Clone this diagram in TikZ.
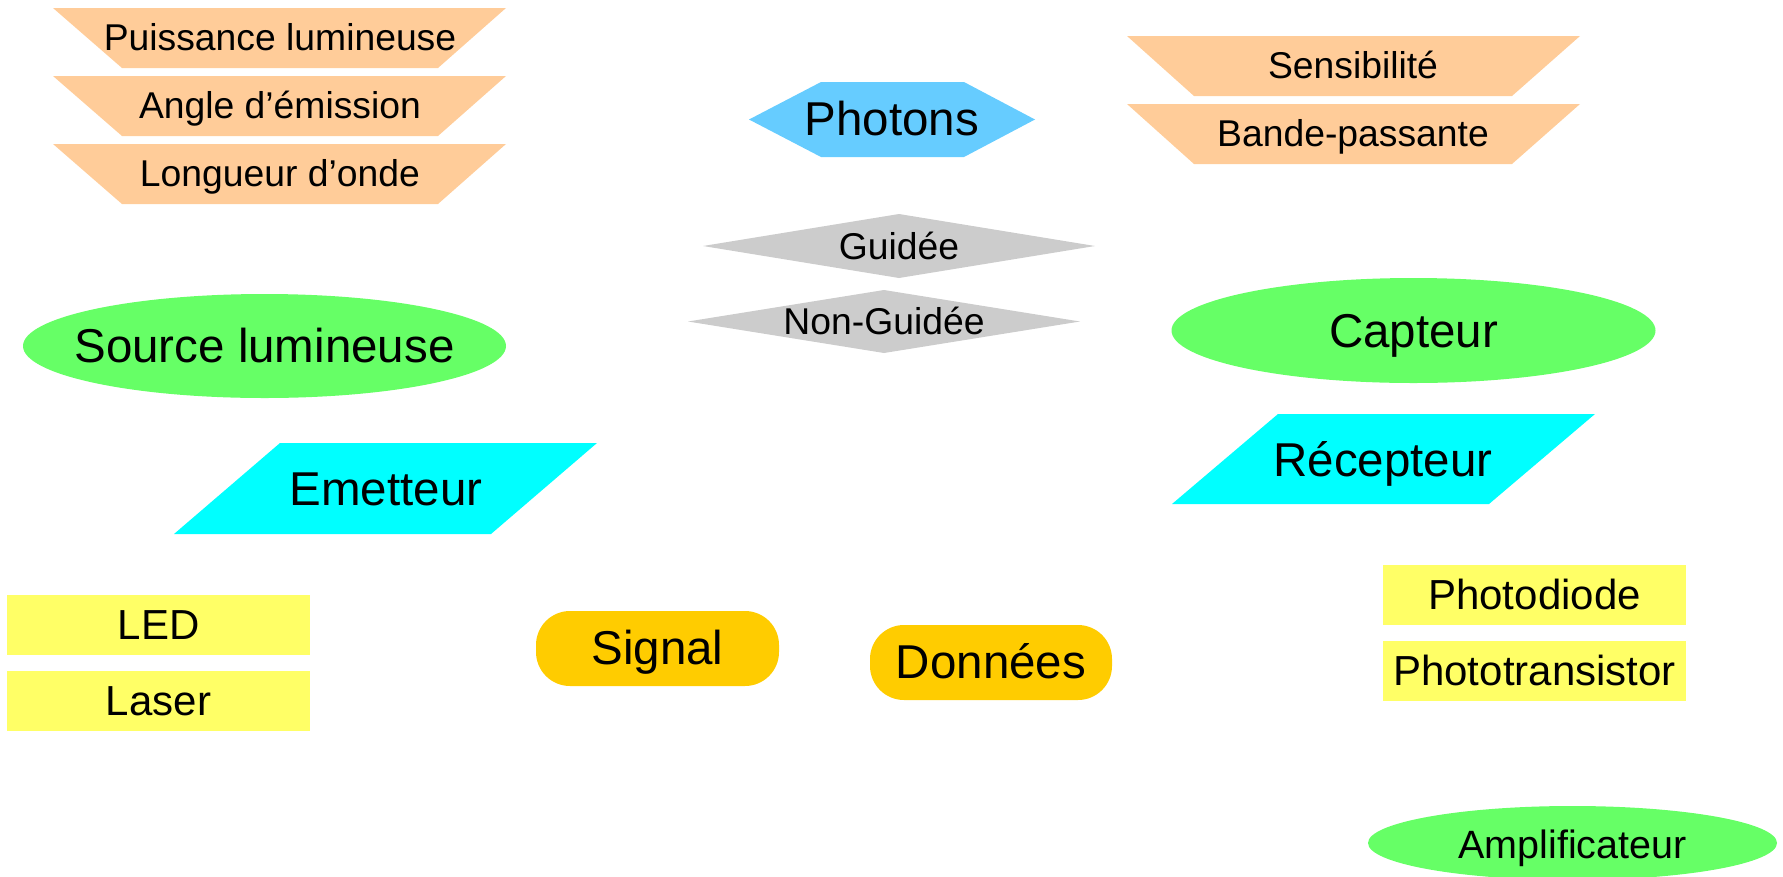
\documentclass[tikz,border=0pt]{standalone}
\usepackage{fontspec}
\setmainfont{Liberation Sans}
\definecolor{peach}{HTML}{FFCC99}
\definecolor{skyb}{HTML}{66CCFF}
\definecolor{greyd}{HTML}{CCCCCC}
\definecolor{greenel}{HTML}{66FF66}
\definecolor{cyanp}{HTML}{00FFFF}
\definecolor{yellowr}{HTML}{FFFF66}
\definecolor{goldr}{HTML}{FFCC00}
\tikzset{
  lbl/.style={inner sep=0pt, anchor=center, text=black},
  bigt/.style={lbl, font=\fontsize{47.5}{57}\selectfont, text height=43pt, text depth=10.07pt},
  medt/.style={lbl, font=\fontsize{42}{50}\selectfont, text height=38pt, text depth=8.9pt},
  ampt/.style={lbl, font=\fontsize{39.5}{47}\selectfont, text height=35.75pt, text depth=8.37pt},
  smallt/.style={lbl, font=\fontsize{37.3}{45}\selectfont, text height=33.76pt, text depth=7.91pt},
}
\begin{document}
\begin{tikzpicture}[x=1pt,y=-1pt]
\useasboundingbox (0,0) rectangle (1783,876);
\clip (0,0) rectangle (1783,876);
% left trapezoids
\foreach \t in {8,76,144}{
  \fill[peach] (53,\t) -- (506,\t) -- (438,\t+60) -- (122,\t+60) -- cycle;
}
\node[smallt] (puissance) at (280,38) {Puissance lumineuse};
\node[smallt] (angle) at (280,106) {Angle d’émission};
\node[smallt] (longueur) at (280,174) {Longueur d’onde};
% right trapezoids
\foreach \t in {36,104}{
  \fill[peach] (1127,\t) -- (1580,\t) -- (1512,\t+60) -- (1194,\t+60) -- cycle;
}
\node[smallt] (sensib) at (1353,66) {Sensibilité};
\node[smallt] (bande) at (1353,134) {Bande-passante};
% photons hexagon
\fill[skyb] (749,119.5) -- (821,82) -- (964,82) -- (1035,119.5) -- (964,157) -- (821,157) -- cycle;
\node[bigt] (photons) at (892,119.5) {Photons};
% diamonds
\fill[greyd] (703,246) -- (899,214) -- (1095,246) -- (899,278) -- cycle;
\node[smallt] (guidee) at (899,246.5) {Guidée};
\fill[greyd] (688,321.5) -- (884,290) -- (1080,321.5) -- (884,353) -- cycle;
\node[smallt] (nonguidee) at (884,322) {Non-Guidée};
% ellipses
\fill[greenel] (264.5,346) ellipse [x radius=241.5, y radius=52];
\node[bigt] (source) at (264.5,346) {Source lumineuse};
\fill[greenel] (1413.5,330.5) ellipse [x radius=242, y radius=52.5];
\node[bigt] (capteur) at (1413.5,331) {Capteur};
\fill[greenel] (1572.5,843) ellipse [x radius=204.5, y radius=37];
\node[ampt] (ampli) at (1572.5,845) {Amplificateur};
% parallelograms
\fill[cyanp] (174,534) -- (280,443) -- (597,443) -- (491,534) -- cycle;
\node[bigt] (emetteur) at (386,489) {Emetteur};
\fill[cyanp] (1172,504) -- (1278,414) -- (1595,414) -- (1489,504) -- cycle;
\node[bigt] (recepteur) at (1383,460) {Récepteur};
% yellow rectangles
\fill[yellowr] (7,595) rectangle (310,655);
\node[medt] (led) at (158.5,625) {LED};
\fill[yellowr] (7,671) rectangle (310,731);
\node[medt] (laser) at (158.5,701) {Laser};
\fill[yellowr] (1383,565) rectangle (1686,625);
\node[medt] (photodiode) at (1534.5,595) {Photodiode};
\fill[yellowr] (1383,641) rectangle (1686,701);
\node[medt] (phototrans) at (1534.5,671) {Phototransistor};
% rounded boxes
\fill[goldr, rounded corners=34pt] (536,611) rectangle (779,686);
\node[bigt] (signal) at (657.5,648.5) {Signal};
\fill[goldr, rounded corners=34pt] (870,625) rectangle (1112,700);
\node[bigt] (donnees) at (991,662.5) {Données};
\end{tikzpicture}
\end{document}
